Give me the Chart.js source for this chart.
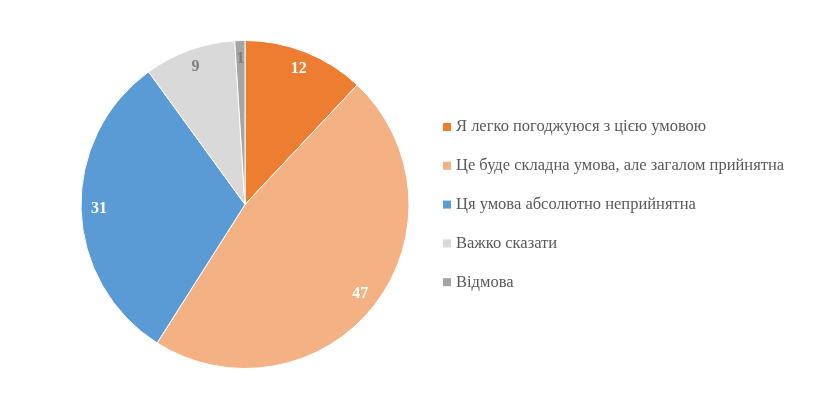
<!DOCTYPE html>
<html>
<head>
<meta charset="utf-8">
<script src="https://cdn.jsdelivr.net/npm/chart.js@4/dist/chart.umd.min.js"></script>
<style>
  html, body { margin: 0; padding: 0; background: #fff; }
  #wrap { width: 828px; height: 416px; }
</style>
</head>
<body>
<div id="wrap"><canvas id="pie"></canvas></div>
<script>
// Chart data
const categories = [
  "Я легко погоджуюся з цією умовою",
  "Це буде складна умова, але загалом прийнятна",
  "Ця умова абсолютно неприйнятна",
  "Важко сказати",
  "Відмова"
];
const values = [12, 47, 31, 9, 1];
const sliceColors = ["#ED7D31", "#F4B183", "#5B9BD5", "#D9D9D9", "#A5A5A5"];
const labelColors = ["#FFFFFF", "#FFFFFF", "#FFFFFF", "#7F7F7F", "#7F7F7F"];

const serif = '"Liberation Serif", "DejaVu Serif", serif';

// Value labels inside slices
const sliceLabels = {
  id: "sliceLabels",
  afterDatasetsDraw(chart) {
    const ctx = chart.ctx;
    const meta = chart.getDatasetMeta(0);
    ctx.save();
    ctx.font = "bold 16px " + serif;
    ctx.textAlign = "center";
    ctx.textBaseline = "middle";
    meta.data.forEach((arc, i) => {
      const mid = (arc.startAngle + arc.endAngle) / 2;
      const r = arc.outerRadius * 0.89;
      ctx.fillStyle = labelColors[i];
      ctx.fillText(String(values[i]), arc.x + Math.cos(mid) * r, arc.y + Math.sin(mid) * r);
    });
    ctx.restore();
  }
};

// Legend on the right, drawn by hand to match spacing
const sideLegend = {
  id: "sideLegend",
  afterDraw(chart) {
    const ctx = chart.ctx;
    ctx.save();
    ctx.font = "16.5px " + serif;
    ctx.textBaseline = "middle";
    categories.forEach((name, i) => {
      const y = 127 + i * 38.8;
      ctx.fillStyle = sliceColors[i];
      ctx.fillRect(443, y - 4, 8, 8);
      ctx.fillStyle = "#595959";
      ctx.fillText(name, 456, y);
    });
    ctx.restore();
  }
};

new Chart(document.getElementById("pie").getContext("2d"), {
  type: "pie",
  data: {
    labels: categories,
    datasets: [{
      data: values,
      backgroundColor: sliceColors,
      borderColor: "#FFFFFF",
      borderWidth: 1
    }]
  },
  options: {
    responsive: true,
    maintainAspectRatio: false,
    animation: false,
    layout: { padding: { left: 80, right: 418, top: 40, bottom: 47 } },
    plugins: {
      legend: { display: false },
      tooltip: { enabled: false }
    }
  },
  plugins: [sliceLabels, sideLegend]
});
</script>
</body>
</html>
